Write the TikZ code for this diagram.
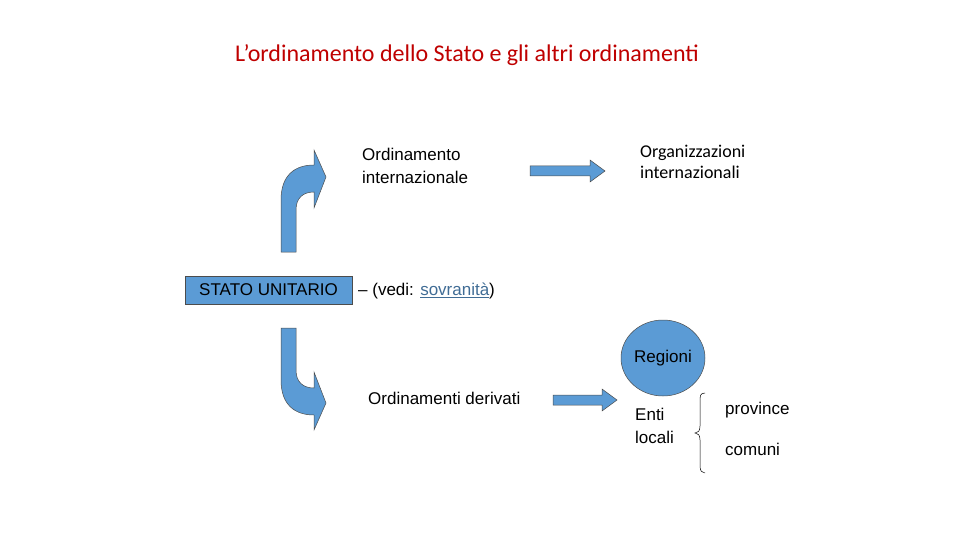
\documentclass[tikz,border=0pt]{standalone}
\usepackage{fontspec}
\usetikzlibrary{shapes.geometric}
\setmainfont{Liberation Sans}
\newfontfamily\calfont{Carlito}
\definecolor{bf}{HTML}{5B9BD5}
\begin{document}
\begin{tikzpicture}[x=1pt,y=-1pt,
  blu/.style={fill=bf, draw=black!70, line width=0.5pt},
  txt/.style={font=\fontsize{17}{23}\selectfont, align=left, inner sep=0pt}]
\useasboundingbox (0,0) rectangle (960,540);
\node[font=\calfont\fontsize{24}{28}\selectfont, text=red!75!black] (title) at (467,55) {L’ordinamento dello Stato e gli altri ordinamenti};
% curved arrows
\draw[blu] (281,252) -- (281,200) .. controls (281,175) and (295,165) .. (314,165) -- (314,150) -- (326,177) -- (314,208) -- (314,192) .. controls (303,192) and (296,198) .. (296,210) -- (296,252) -- cycle;
\draw[blu] (281,328) -- (281,380) .. controls (281,405) and (295,415) .. (314,415) -- (314,430) -- (326,403) -- (314,372) -- (314,388) .. controls (303,388) and (296,382) .. (296,370) -- (296,328) -- cycle;
% straight arrows
\draw[blu] (530,166) -- (590,166) -- (590,160) -- (605,171) -- (590,182) -- (590,176) -- (530,176) -- cycle;
\draw[blu] (553,395) -- (602,395) -- (602,389) -- (617,400) -- (602,411) -- (602,405) -- (553,405) -- cycle;
\node[txt, anchor=north west] (oi) at (362,148) {Ordinamento\\internazionale};
\node[txt, font=\calfont\fontsize{18}{21}\selectfont, anchor=north west] (org) at (640,145) {Organizzazioni\\internazionali};
\node[blu, font=\fontsize{17}{20}\selectfont, minimum width=167pt, minimum height=28pt, inner sep=0pt] (stato) at (268.5,290) {STATO UNITARIO};
\node[txt, anchor=west] (vedi) at (358,291) {– (vedi: \textcolor{bf!70!black}{\underline{sovranità}})};
\node[blu, ellipse, minimum width=84pt, minimum height=76pt, inner sep=0pt, font=\fontsize{17}{20}\selectfont] (reg) at (663,358) {Regioni};
\node[txt, anchor=north west] (od) at (368,392) {Ordinamenti derivati};
\node[txt, anchor=north west] (enti) at (635,408) {Enti\\locali};
\node[txt, anchor=west] (prov) at (725,410) {province};
\node[txt, anchor=west] (com) at (725,449) {comuni};
\draw[line width=0.5pt] (705,393) .. controls (700,393) and (700,396) .. (700,402) -- (700,426) .. controls (700,431) and (698,433) .. (695,433) .. controls (698,433) and (700,435) .. (700,440) -- (700,466) .. controls (700,471) and (702,473) .. (705,473);
\end{tikzpicture}
\end{document}
